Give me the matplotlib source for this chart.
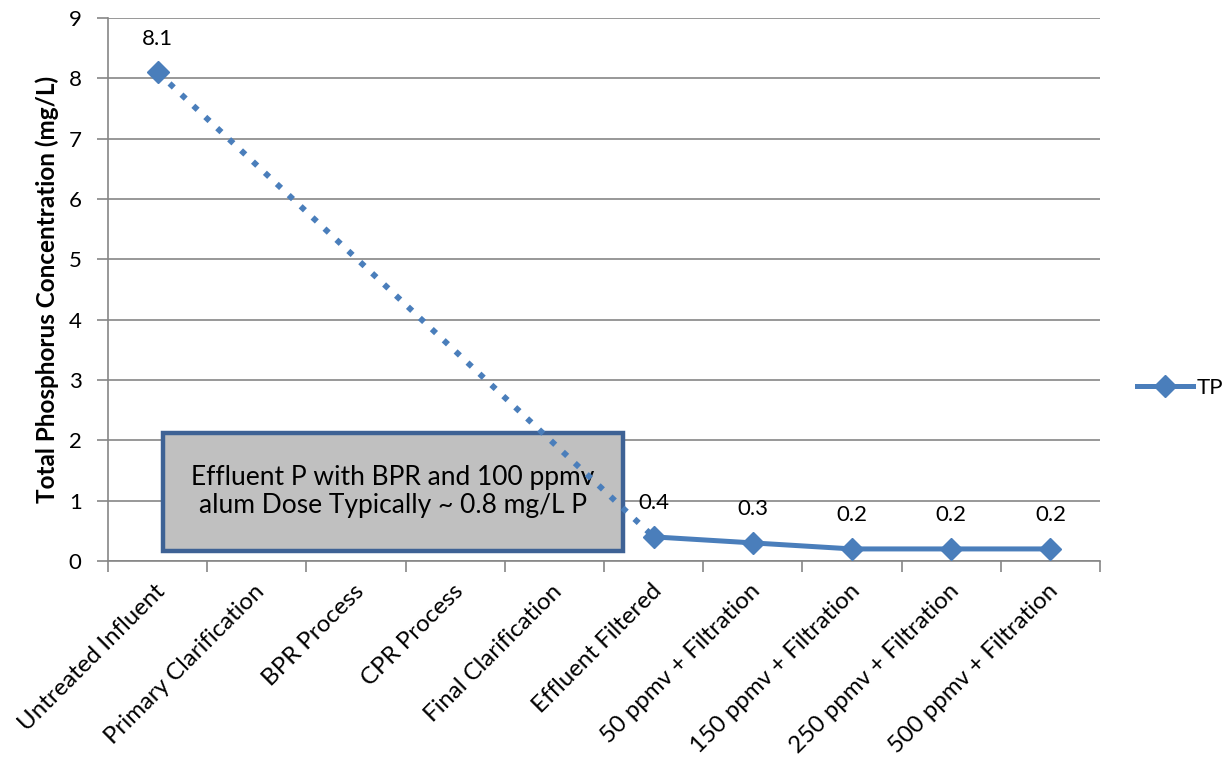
import numpy as np
import matplotlib
matplotlib.use("Agg")
import matplotlib.pyplot as plt
from matplotlib.lines import Line2D
from matplotlib.patches import Rectangle
from matplotlib.transforms import ScaledTranslation

categories = ["Untreated Influent", "Primary Clarification", "BPR Process", "CPR Process",
              "Final Clarification", "Effluent Filtered", "50 ppmv + Filtration",
              "150 ppmv + Filtration", "250 ppmv + Filtration", "500 ppmv + Filtration"]
tp_values = [8.1, np.nan, np.nan, np.nan, np.nan, 0.4, 0.3, 0.2, 0.2, 0.2]
y_ticks = [0, 1, 2, 3, 4, 5, 6, 7, 8, 9]
series_name = "TP"
annotation = "Effluent P with BPR and 100 ppmv\nalum Dose Typically ~ 0.8 mg/L P"
y_label = "Total Phosphorus Concentration (mg/L)"

plt.rcParams['font.family'] = ['Lato', 'DejaVu Sans']

blue = "#4A7EBB"
grid = "#868686"

fig = plt.figure(figsize=(12.25, 7.59), dpi=100)
ax = fig.add_axes([108/1225, 1-561/759, (1100-108)/1225, (561-18)/759])

x = np.arange(len(categories))
vals = np.array(tp_values, dtype=float)
valid = np.where(~np.isnan(vals))[0]

# dotted connector across the gap
gap_start, gap_end = valid[0], valid[1]
ax.plot([x[gap_start], x[gap_end]], [vals[gap_start], vals[gap_end]],
        color=blue, lw=4.2, linestyle=(0, (1, 1.8)), dash_capstyle='butt', zorder=4)
# solid line for contiguous segments
ax.plot(x, vals, color=blue, lw=3.6, zorder=4, solid_capstyle='round')
ax.plot(x[valid], vals[valid], linestyle='none', marker='D', markersize=11,
        color=blue, zorder=5)

for xi in valid:
    ax.annotate(f"{vals[xi]:.1f}", (x[xi], vals[xi]), xytext=(0, 17),
                textcoords='offset points', ha='center', va='bottom',
                fontsize=16, color='black')

ax.set_xlim(-0.5, len(categories) - 0.5)
ax.set_ylim(0, 9)
ax.set_yticks(y_ticks)
ax.set_yticklabels([str(t) for t in y_ticks], fontsize=16)
ax.yaxis.grid(True, color=grid, lw=1.2)
ax.set_axisbelow(True)

ax.set_xticks(np.arange(len(categories) + 1) - 0.5)
ax.set_xticklabels([])
ax.set_xticks(x, minor=True)
ax.set_xticklabels(categories, minor=True, rotation=45, ha='right', va='top',
                   rotation_mode='anchor', fontsize=17.3)
ax.tick_params(axis='x', which='minor', length=0, pad=14)
ax.tick_params(axis='x', which='major', length=8, color=grid, width=1.2)
ax.tick_params(axis='y', length=8, color=grid, width=1.2, pad=11)
shift = ScaledTranslation(-3/100, 0, fig.dpi_scale_trans)
for lab in ax.get_xticklabels(minor=True):
    lab.set_transform(lab.get_transform() + shift)

for s in ['top', 'right']:
    ax.spines[s].set_visible(False)
for s in ['left', 'bottom']:
    ax.spines[s].set_color(grid)
    ax.spines[s].set_linewidth(1.2)

ax.set_ylabel(y_label, fontsize=17.5, fontweight='bold')
ax.yaxis.set_label_coords((59-108)/992, 0.5)

# annotation box (axes fraction coordinates)
bx0, by0 = (163-108)/992, (561-551)/543
bx1, by1 = (623-108)/992, (561-433)/543
box = Rectangle((bx0, by0), bx1-bx0, by1-by0,
                transform=ax.transAxes, facecolor="#C0C0C0",
                edgecolor="#3E6295", lw=3.2, zorder=3)
ax.add_patch(box)
ax.text((bx0+bx1)/2, (by0+by1)/2, annotation, transform=ax.transAxes,
        ha='center', va='center', fontsize=19, zorder=3.5, linespacing=1.15)

handle = Line2D([], [], color=blue, lw=3.6, marker='D', markersize=11)
fig.legend([handle], [series_name], loc='center left',
           bbox_to_anchor=(1137/1225, 1-388/759), frameon=False, fontsize=16,
           handlelength=2.5, handletextpad=0.2, borderaxespad=0, borderpad=0)

fig.savefig("out.png", dpi=100)
